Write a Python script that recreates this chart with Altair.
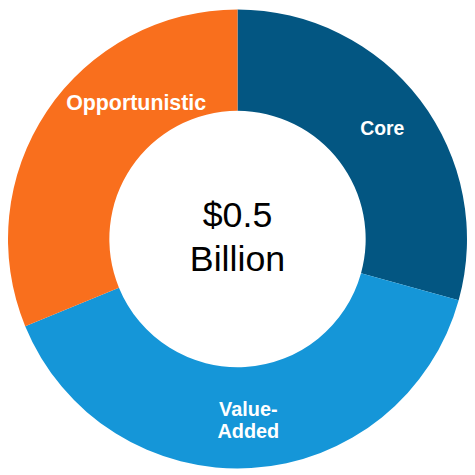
import altair as alt
import pandas as pd

categories = ["Core", "Value-Added", "Opportunistic"]
shares = [29.3, 39.5, 31.2]
labels = ["Core", "Value-\nAdded", "Opportunistic"]
label_sizes = [19.5, 20, 21.5]
colors = ["#035682", "#1596d8", "#f96f1d"]
center_text = "$0.5\nBillion"

df = pd.DataFrame({
    "category": categories,
    "share": shares,
    "label": labels,
    "idx": list(range(len(categories))),
})

base = alt.Chart(df).encode(
    theta=alt.Theta("share:Q", stack=True),
    order=alt.Order("idx:Q"),
)

arcs = base.mark_arc(innerRadius=129, outerRadius=231, stroke=None).encode(
    color=alt.Color("category:N", scale=alt.Scale(domain=categories, range=colors), legend=None)
)

offsets = {"Core": (0, 0), "Value-Added": (0, -11), "Opportunistic": (50, -34)}


def label_layer(cat, size):
    dx, dy = offsets[cat]
    return base.transform_calculate(
        lab=f"datum.category == '{cat}' ? datum.label : ''"
    ).mark_text(
        radius=183, dx=dx, dy=dy, font="Liberation Sans", fontSize=size,
        fontWeight="bold", color="white", lineBreak="\n", lineHeight=22.5,
        baseline="middle", align="center"
    ).encode(text="lab:N")


label_layers = [label_layer(c, s) for c, s in zip(categories, label_sizes)]

center = alt.Chart(pd.DataFrame({"t": [center_text]})).mark_text(
    font="Liberation Sans", fontSize=36, color="black", lineBreak="\n",
    lineHeight=44.5, baseline="middle", align="center"
).encode(text="t:N", x=alt.value(231), y=alt.value(208))

chart = alt.layer(arcs, *label_layers, center).properties(
    width=462, height=462, padding=0, autosize="none"
).configure_view(stroke=None)

chart.save("out.html", embed_options={"renderer": "svg", "actions": False})
